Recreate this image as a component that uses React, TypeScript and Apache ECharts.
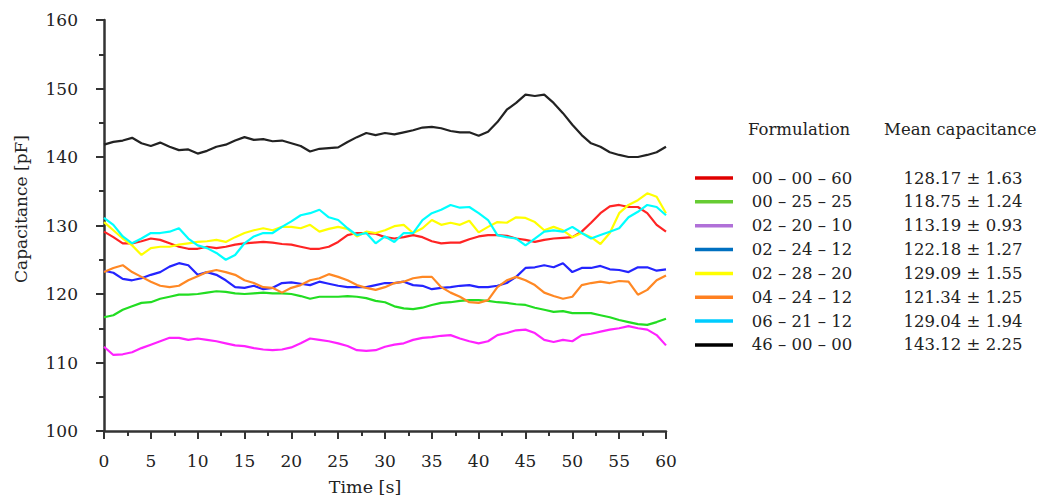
import React, { useEffect, useRef } from "react";
import * as echarts from "echarts";

const formulations = ["00 – 00 – 60", "00 – 25 – 25", "02 – 20 – 10", "02 – 24 – 12", "02 – 28 – 20", "04 – 24 – 12", "06 – 21 – 12", "46 – 00 – 00"];
const meanCapacitance = ["128.17 ± 1.63", "118.75 ± 1.24", "113.19 ± 0.93", "122.18 ± 1.27", "129.09 ± 1.55", "121.34 ± 1.25", "129.04 ± 1.94", "143.12 ± 2.25"];
const lineColors = ["#ff2424", "#22dd22", "#ff22ff", "#2424ff", "#ffff00", "#ff8824", "#00ffff", "#222222"];
const legendColors = ["#e00000", "#66cc33", "#b070d8", "#0070c0", "#ffff00", "#ff8020", "#00ccff", "#000000"];

const times = [0, 1, 2, 3, 4, 5, 6, 7, 8, 9, 10, 11, 12, 13, 14, 15, 16, 17, 18, 19, 20, 21, 22, 23, 24, 25, 26, 27, 28, 29, 30, 31, 32, 33, 34, 35, 36, 37, 38, 39, 40, 41, 42, 43, 44, 45, 46, 47, 48, 49, 50, 51, 52, 53, 54, 55, 56, 57, 58, 59, 60];

const s000060 = [129.1, 128.3, 127.4, 127.4, 127.7, 128.1, 127.9, 127.4, 126.9, 126.6, 126.6, 126.9, 126.7, 126.9, 127.2, 127.4, 127.5, 127.6, 127.5, 127.3, 127.2, 126.9, 126.6, 126.6, 126.9, 127.6, 128.6, 128.9, 128.9, 128.8, 128.3, 128.1, 128.3, 128.6, 128.3, 127.7, 127.4, 127.5, 127.5, 128.0, 128.4, 128.6, 128.6, 128.5, 128.1, 127.9, 127.6, 127.9, 128.1, 128.2, 128.3, 129.1, 130.4, 131.8, 132.8, 133.0, 132.7, 132.7, 131.8, 130.1, 129.1];
const s002525 = [116.6, 116.9, 117.7, 118.2, 118.7, 118.8, 119.3, 119.6, 119.9, 119.9, 120.0, 120.2, 120.4, 120.3, 120.1, 120.0, 120.1, 120.2, 120.1, 120.1, 120.0, 119.7, 119.3, 119.6, 119.6, 119.6, 119.7, 119.6, 119.4, 119.0, 118.8, 118.2, 117.9, 117.8, 118.0, 118.4, 118.7, 118.8, 119.0, 119.1, 119.1, 119.0, 118.8, 118.7, 118.5, 118.4, 118.0, 117.7, 117.4, 117.5, 117.2, 117.2, 117.2, 116.9, 116.6, 116.2, 115.9, 115.6, 115.5, 115.9, 116.4];
const s022010 = [112.3, 111.1, 111.2, 111.5, 112.1, 112.6, 113.1, 113.6, 113.6, 113.3, 113.5, 113.3, 113.1, 112.8, 112.5, 112.4, 112.1, 111.9, 111.8, 111.9, 112.2, 112.8, 113.5, 113.3, 113.1, 112.8, 112.4, 111.8, 111.7, 111.8, 112.3, 112.6, 112.8, 113.3, 113.6, 113.7, 113.9, 114.0, 113.5, 113.1, 112.8, 113.1, 114.0, 114.3, 114.7, 114.8, 114.3, 113.3, 113.0, 113.3, 113.1, 114.0, 114.2, 114.5, 114.8, 115.0, 115.3, 115.0, 114.8, 114.0, 112.5];
const s022412 = [123.4, 123.1, 122.2, 122.0, 122.3, 122.8, 123.2, 124.0, 124.5, 124.2, 122.8, 123.2, 122.8, 122.0, 121.0, 120.9, 121.2, 120.7, 120.9, 121.6, 121.7, 121.5, 121.3, 121.8, 121.5, 121.2, 121.0, 121.0, 121.0, 121.3, 121.6, 121.6, 121.8, 121.3, 121.2, 120.7, 120.9, 121.0, 121.2, 121.3, 121.0, 121.0, 121.2, 121.6, 122.5, 123.8, 123.9, 124.2, 123.9, 124.5, 123.2, 123.8, 123.8, 124.1, 123.6, 123.5, 123.2, 123.9, 123.9, 123.4, 123.6];
const s022820 = [130.5, 129.3, 128.1, 127.1, 125.7, 126.7, 126.9, 126.9, 127.2, 127.4, 127.6, 127.7, 127.9, 127.6, 128.3, 128.9, 129.3, 129.6, 129.3, 129.8, 129.8, 129.6, 130.1, 129.1, 129.5, 129.8, 129.5, 128.4, 129.1, 128.9, 129.3, 129.9, 130.1, 128.9, 129.6, 130.8, 130.1, 130.4, 130.1, 130.7, 129.0, 129.8, 130.5, 130.4, 131.2, 131.1, 130.5, 129.3, 129.8, 129.3, 128.3, 128.9, 128.3, 127.3, 128.9, 131.8, 133.0, 133.7, 134.7, 134.2, 131.8];
const s042412 = [123.2, 123.8, 124.2, 123.2, 122.5, 121.8, 121.2, 121.0, 121.2, 122.0, 122.6, 123.2, 123.5, 123.2, 122.8, 122.0, 121.6, 121.0, 120.9, 120.2, 120.9, 121.3, 122.0, 122.3, 122.9, 122.5, 122.0, 121.3, 120.9, 120.6, 121.0, 121.6, 121.8, 122.3, 122.5, 122.5, 121.0, 120.2, 119.6, 118.8, 118.7, 119.1, 121.0, 122.0, 122.5, 122.0, 121.3, 120.2, 119.7, 119.3, 119.6, 121.3, 121.6, 121.8, 121.6, 121.9, 121.8, 119.9, 120.6, 122.0, 122.7];
const s062112 = [131.1, 130.1, 128.4, 127.4, 128.1, 128.9, 128.9, 129.1, 129.6, 128.1, 127.1, 126.7, 126.0, 125.0, 125.7, 127.4, 128.4, 128.9, 128.9, 129.8, 130.6, 131.5, 131.8, 132.3, 131.2, 130.8, 129.6, 128.6, 128.9, 127.4, 128.4, 127.6, 128.9, 128.9, 130.8, 131.8, 132.3, 133.0, 132.6, 132.7, 131.8, 130.8, 128.6, 128.3, 128.1, 127.1, 128.1, 129.1, 129.3, 129.1, 129.8, 128.9, 128.1, 128.6, 129.1, 129.6, 131.2, 132.0, 133.0, 132.7, 131.5];
const s460000 = [141.8, 142.2, 142.4, 142.8, 142.0, 141.6, 142.1, 141.5, 141.0, 141.1, 140.5, 140.9, 141.5, 141.8, 142.4, 142.9, 142.5, 142.6, 142.3, 142.4, 142.0, 141.6, 140.8, 141.2, 141.3, 141.4, 142.2, 142.9, 143.5, 143.2, 143.5, 143.3, 143.6, 143.9, 144.3, 144.4, 144.2, 143.8, 143.6, 143.6, 143.1, 143.7, 145.1, 146.9, 147.9, 149.1, 148.9, 149.1, 147.9, 146.4, 144.7, 143.2, 142.0, 141.5, 140.7, 140.3, 140.0, 140.0, 140.3, 140.7, 141.5];

const seriesValues = [s000060, s002525, s022010, s022412, s022820, s042412, s062112, s460000];
const yTicks = [100, 110, 120, 130, 140, 150, 160];
const xTicks = [0, 5, 10, 15, 20, 25, 30, 35, 40, 45, 50, 55, 60];

const FONT = "DejaVu Serif";

export default function App() {
  const ref = useRef<HTMLDivElement>(null);
  useEffect(() => {
    if (!ref.current) return;
    const chart = echarts.init(ref.current, null, { renderer: "svg" });
    const axisColor = "#333333";
    const graphic: any[] = [
      { type: "text", left: 748, top: 121, style: { text: "Formulation", font: `16.5px "${FONT}"`, fill: "#222" } },
      { type: "text", left: 884, top: 121, style: { text: "Mean capacitance", font: `16.5px "${FONT}"`, fill: "#222" } },
      { type: "text", x: 365, y: 487, style: { text: "Time [s]", font: `17.5px "${FONT}"`, fill: "#222", align: "center", verticalAlign: "middle" } },
      { type: "text", x: 21, y: 209, rotation: Math.PI / 2, style: { text: "Capacitance [pF]", font: `17px "${FONT}"`, fill: "#222", align: "center", verticalAlign: "middle" } },
    ];
    formulations.forEach((f, i) => {
      const y = 178 + i * 23.85;
      graphic.push({ type: "line", shape: { x1: 695, y1: y, x2: 733, y2: y }, style: { stroke: legendColors[i], lineWidth: 3.5 } });
      graphic.push({ type: "text", x: 802, y: y, style: { text: f, font: `16.5px "${FONT}"`, fill: "#222", align: "center", verticalAlign: "middle" } });
      graphic.push({ type: "text", x: 963, y: y, style: { text: meanCapacitance[i], font: `16.5px "${FONT}"`, fill: "#222", align: "center", verticalAlign: "middle" } });
    });
    chart.setOption({
      animation: false,
      backgroundColor: "#ffffff",
      grid: { left: 104, right: 379, top: 20, bottom: 67, containLabel: false },
      xAxis: {
        type: "value",
        min: xTicks[0],
        max: xTicks[xTicks.length - 1],
        interval: 5,
        axisLine: { show: true, lineStyle: { color: axisColor, width: 2.5 } },
        axisTick: { show: true, inside: false, length: 8, lineStyle: { color: axisColor, width: 2 } },
        minorTick: { show: true, splitNumber: 2, length: 5, lineStyle: { color: axisColor, width: 2 } },
        splitLine: { show: false },
        axisLabel: { margin: 21, fontFamily: FONT, fontSize: 17, color: "#222" },
      },
      yAxis: {
        type: "value",
        min: yTicks[0],
        max: yTicks[yTicks.length - 1],
        interval: 10,
        axisLine: { show: true, lineStyle: { color: axisColor, width: 2.5 } },
        axisTick: { show: true, inside: false, length: 8, lineStyle: { color: axisColor, width: 2 } },
        minorTick: { show: true, splitNumber: 2, length: 5, lineStyle: { color: axisColor, width: 2 } },
        splitLine: { show: false },
        axisLabel: { margin: 26, fontFamily: FONT, fontSize: 17, color: "#222" },
      },
      series: seriesValues.map((vals, i) => ({
        name: formulations[i],
        type: "line",
        data: vals.map((v, k) => [times[k], v]),
        showSymbol: false,
        symbol: "none",
        lineStyle: { color: lineColors[i], width: 2.2 },
        z: i === 7 ? 3 : 2,
      })),
      graphic,
    });
    return () => chart.dispose();
  }, []);
  return <div ref={ref} style={{ position: "fixed", left: 0, top: 0, width: 1045, height: 498 }} />;
}
